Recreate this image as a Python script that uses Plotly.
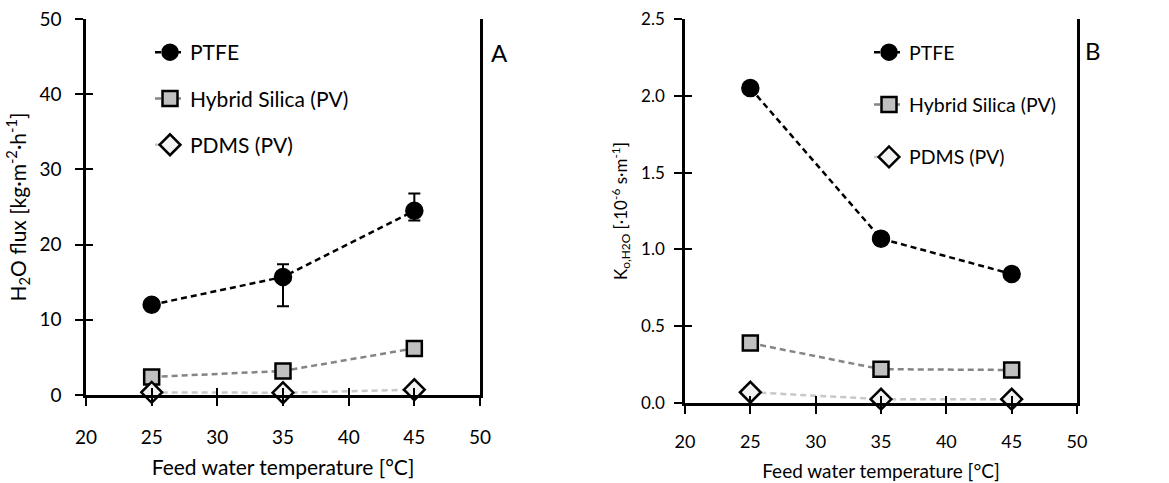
import plotly.graph_objects as go

# ---------------- data ----------------
temps = [25, 35, 45]

flux_ptfe = [12.0, 15.7, 24.5]
flux_ptfe_err_plus = [0.0, 1.7, 2.3]
flux_ptfe_err_minus = [0.0, 3.9, 1.3]
flux_hybrid = [2.4, 3.2, 6.2]
flux_pdms = [0.35, 0.3, 0.7]

k_ptfe = [2.05, 1.07, 0.84]
k_hybrid = [0.39, 0.22, 0.215]
k_pdms = [0.07, 0.025, 0.025]

series_names = ["PTFE", "Hybrid Silica (PV)", "PDMS (PV)"]
x_ticks = [20, 25, 30, 35, 40, 45, 50]
yA_ticks = [0, 10, 20, 30, 40, 50]
yB_ticks = [0.0, 0.5, 1.0, 1.5, 2.0, 2.5]

FONT = "Lato"
W, H = 1169, 483

styles = [
    dict(line=dict(color="black", width=2.5, dash="6px,4px"),
         marker=dict(symbol="circle", size=17, color="black",
                     line=dict(color="black", width=1.5))),
    dict(line=dict(color="#858585", width=2.5, dash="6px,4px"),
         marker=dict(symbol="square", size=15, color="#c0c0c0",
                     line=dict(color="black", width=2.5))),
    dict(line=dict(color="#c8c8c8", width=2.5, dash="6px,4px"),
         marker=dict(symbol="diamond", size=16, color="#f2f2f2",
                     line=dict(color="black", width=2.5))),
]

fig = go.Figure()

# Panel A
ysA = [flux_ptfe, flux_hybrid, flux_pdms]
for i, (name, ys) in enumerate(zip(series_names, ysA)):
    kw = {}
    if i == 0:
        kw["error_y"] = dict(type="data", symmetric=False,
                             array=flux_ptfe_err_plus,
                             arrayminus=flux_ptfe_err_minus,
                             color="black", thickness=2, width=6)
    fig.add_trace(go.Scatter(x=temps, y=ys, name=name, mode="lines+markers",
                             xaxis="x", yaxis="y", legend="legend",
                             legendgroup="a%d" % i, cliponaxis=False,
                             **styles[i], **kw))

# Panel B
ysB = [k_ptfe, k_hybrid, k_pdms]
for i, (name, ys) in enumerate(zip(series_names, ysB)):
    fig.add_trace(go.Scatter(x=temps, y=ys, name=name, mode="lines+markers",
                             xaxis="x2", yaxis="y2", legend="legend2",
                             legendgroup="b%d" % i, cliponaxis=False,
                             **styles[i]))

# empty traces so the overlay (inside-tick) axes exist
fig.add_trace(go.Scatter(x=[], y=[], xaxis="x3", yaxis="y3", showlegend=False))
fig.add_trace(go.Scatter(x=[], y=[], xaxis="x4", yaxis="y4", showlegend=False))

domA_x = [86 / W, 480 / W]
domA_y = [(H - 395) / H, (H - 19) / H]
domB_x = [685 / W, 1077 / W]
domB_y = [(H - 403) / H, (H - 19) / H]

common_x = dict(range=[20, 50], tickvals=x_ticks, showline=True, linecolor="black",
                linewidth=2.5, ticks="outside", ticklen=8, tickwidth=2,
                tickcolor="black", showgrid=False, zeroline=False, mirror=False,
                automargin=False)
common_y = dict(showline=True, linecolor="black", linewidth=2.5, ticks="outside",
                ticklen=8, tickwidth=2, tickcolor="black", showgrid=False,
                zeroline=False, mirror=True, automargin=False)
overlay = dict(ticks="inside", ticklen=7, tickwidth=2, tickcolor="black",
               showticklabels=False, showline=False, showgrid=False,
               zeroline=False, automargin=False)

fig.update_layout(
    width=W, height=H, margin=dict(l=0, r=0, t=0, b=0, autoexpand=False),
    paper_bgcolor="white", plot_bgcolor="white",
    font=dict(family=FONT, color="black"),
    xaxis=dict(domain=domA_x, anchor="y", **common_x,
               tickfont=dict(size=19), ticklabelstandoff=15,
               title=dict(text="Feed water temperature [°C]", font=dict(size=21), standoff=14)),
    yaxis=dict(domain=domA_y, anchor="x", range=[0, 50], tickvals=yA_ticks, **common_y,
               tickfont=dict(size=19), ticklabelstandoff=10,
               title=dict(text="H<sub>2</sub>O flux [kg·m<sup>-2</sup>·h<sup>-1</sup>]",
                          font=dict(size=21), standoff=8)),
    xaxis2=dict(domain=domB_x, anchor="y2", **common_x,
                tickfont=dict(size=18), ticklabelstandoff=13,
                title=dict(text="Feed water temperature [°C]", font=dict(size=19), standoff=14)),
    yaxis2=dict(domain=domB_y, anchor="x2", range=[0, 2.5], tickvals=yB_ticks,
                tickformat=".1f", **common_y,
                tickfont=dict(size=17), ticklabelstandoff=6,
                title=dict(text="K<sub>o,H2O</sub> [·10<sup>-6</sup> s·m<sup>-1</sup>]",
                           font=dict(size=17), standoff=10)),
    # overlay axes for the inside half of crossing ticks
    xaxis3=dict(domain=domA_x, anchor="y3", overlaying="x", range=[20, 50],
                tickvals=x_ticks, **overlay),
    yaxis3=dict(domain=domA_y, anchor="x3", overlaying="y", range=[0, 50],
                tickvals=yA_ticks, **overlay),
    xaxis4=dict(domain=domB_x, anchor="y4", overlaying="x2", range=[20, 50],
                tickvals=x_ticks, **overlay),
    yaxis4=dict(domain=domB_y, anchor="x4", overlaying="y2", range=[0, 2.5],
                tickvals=yB_ticks, **overlay),
    legend=dict(x=150 / W, y=(H - 32) / H, xanchor="left", yanchor="top",
                font=dict(size=21), tracegroupgap=16, bgcolor="rgba(0,0,0,0)",
                borderwidth=0),
    legend2=dict(x=869 / W, y=(H - 33) / H, xanchor="left", yanchor="top",
                 font=dict(size=19.5), tracegroupgap=24, bgcolor="rgba(0,0,0,0)",
                 borderwidth=0),
    annotations=[
        dict(text="A", x=499 / W, y=(H - 52) / H, xref="paper", yref="paper",
             xanchor="center", yanchor="middle",
             showarrow=False, font=dict(size=24)),
        dict(text="B", x=1093 / W, y=(H - 50) / H, xref="paper", yref="paper",
             xanchor="center", yanchor="middle",
             showarrow=False, font=dict(size=24)),
    ],
)

fig.write_html("out.html")
